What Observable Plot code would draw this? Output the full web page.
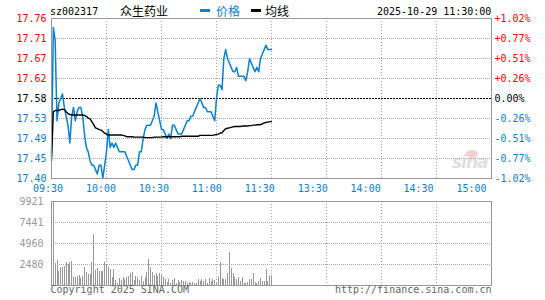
<!DOCTYPE html>
<html><head><meta charset="utf-8">
<script src="https://cdn.jsdelivr.net/npm/d3@7"></script>
<script src="https://cdn.jsdelivr.net/npm/@observablehq/plot@0.6"></script>
<style>
body{margin:0;background:#fff;}
#c{position:relative;width:545px;height:300px;overflow:hidden;font-family:"DejaVu Sans Mono",monospace;}
#c > *{position:absolute;}
.m{font-size:10px;line-height:12px;white-space:nowrap;font-family:"DejaVu Sans Mono",monospace;}
.k{font-size:12px;line-height:14px;white-space:nowrap;font-family:"Noto Sans CJK SC",sans-serif;}
</style></head><body><div id="c"></div>
<script>
const symbol = "sz002317";
const stockName = "众生药业";
const legendNames = ["价格", "均线"];
const stamp = "2025-10-29 11:30:00";
const prevClose = 17.58;
const timeTicks = [0, 30, 60, 90, 120, 150, 180, 210, 240];
const timeLabels = ["09:30","10:00","10:30","11:00","11:30","13:30","14:00","14:30","15:00"];
const priceTicks = [17.76, 17.715, 17.67, 17.625, 17.58, 17.535, 17.49, 17.445, 17.40];
const priceLabels = ["17.76","17.71","17.67","17.62","17.58","17.53","17.49","17.45","17.40"];
const pctLabels = ["+1.02%","+0.77%","+0.51%","+0.26%","0.00%","-0.26%","-0.51%","-0.77%","-1.02%"];
const volTicks = [9921, 7441, 4960, 2480];
const volLabels = ["9921","7441","4960","2480"];
const copyright = "Copyright 2025 SINA.COM";
const siteUrl = "http://finance.sina.com.cn";

// one value per trading minute, 09:30 .. 11:30
const price = [17.45,17.74,17.71,17.53,17.57,17.58,17.59,17.56,17.54,17.52,
17.48,17.54,17.56,17.53,17.55,17.56,17.56,17.54,17.50,17.47,
17.46,17.44,17.43,17.43,17.42,17.41,17.43,17.43,17.40,17.43,
17.46,17.51,17.47,17.48,17.47,17.48,17.47,17.46,17.46,17.46,
17.46,17.45,17.44,17.43,17.42,17.42,17.43,17.43,17.46,17.46,
17.49,17.51,17.52,17.52,17.52,17.53,17.54,17.57,17.55,17.53,
17.51,17.51,17.50,17.49,17.50,17.49,17.52,17.52,17.51,17.50,
17.50,17.50,17.51,17.52,17.53,17.53,17.54,17.54,17.55,17.56,
17.57,17.58,17.57,17.56,17.56,17.55,17.55,17.55,17.54,17.53,
17.58,17.61,17.61,17.60,17.67,17.69,17.67,17.66,17.65,17.64,
17.64,17.65,17.63,17.63,17.63,17.63,17.62,17.64,17.67,17.66,
17.65,17.64,17.65,17.64,17.67,17.68,17.69,17.70,17.69,17.69,17.69];

const avgPrice = [17.440,17.550,17.553,17.553,17.553,17.555,17.556,17.555,17.550,17.546,
17.544,17.543,17.543,17.543,17.543,17.543,17.543,17.543,17.542,17.540,
17.536,17.534,17.528,17.521,17.514,17.512,17.510,17.509,17.506,17.502,
17.500,17.498,17.498,17.498,17.498,17.498,17.498,17.498,17.498,17.497,
17.496,17.494,17.494,17.494,17.494,17.493,17.493,17.493,17.493,17.493,
17.493,17.492,17.492,17.492,17.492,17.492,17.493,17.493,17.493,17.493,
17.493,17.494,17.494,17.494,17.494,17.494,17.494,17.494,17.494,17.494,
17.494,17.495,17.495,17.495,17.495,17.495,17.495,17.495,17.495,17.495,
17.495,17.497,17.497,17.497,17.497,17.497,17.497,17.497,17.497,17.498,
17.499,17.500,17.502,17.503,17.508,17.512,17.513,17.514,17.515,17.516,
17.517,17.517,17.517,17.517,17.518,17.518,17.518,17.518,17.519,17.519,
17.520,17.520,17.521,17.521,17.521,17.523,17.525,17.526,17.527,17.528,17.528];

const volume = [3170,9921,2580,2976,1667,2103,2103,2262,2658,2500,
2658,2857,913,913,1071,1190,794,1071,2103,1587,
1309,1309,2658,6071,1786,1984,1667,1667,1667,2658,
2500,2103,1905,913,1865,595,278,794,595,913,
754,913,1071,1389,1508,595,1071,913,595,1071,
516,913,1587,3095,2103,1587,1190,1468,1071,1389,
1190,913,675,397,675,278,595,794,278,595,
317,595,516,516,238,357,238,357,238,278,
675,516,675,516,675,278,794,516,675,595,
278,913,2658,794,675,675,1389,3928,1984,1389,
913,675,913,516,913,278,278,397,675,675,
1389,397,278,516,794,516,516,1865,516,1071,1190];

const BLUE = "#0a80d0", RED = "#ff0000", GRID = "#a8a8a8", FRAME = "#999";
const rows = price.map((p, i) => ({m: i, p, a: avgPrice[i], v: volume[i]}));
const tickRows = priceTicks.map((t, i) => ({t, label: priceLabels[i], pct: pctLabels[i]}));
const tickColor = d => Math.abs(d.t - prevClose) < 1e-9 ? "#000" : (d.t > prevClose ? RED : BLUE);
const fontStyle = {fontFamily: "DejaVu Sans Mono, monospace", fontSize: "10px", background: "transparent", overflow: "visible"};

const c = document.getElementById("c");

// price panel
const pricePlot = Plot.plot({
  width: 545, height: 180,
  marginLeft: 51, marginRight: 54, marginTop: 18, marginBottom: 2,
  style: fontStyle,
  x: {domain: [0, 240], axis: null},
  y: {domain: [17.40, 17.76], axis: null},
  marks: [
    Plot.ruleX(timeTicks.slice(1, -1), {stroke: GRID, strokeDasharray: "1,2", shapeRendering: "crispEdges"}),
    Plot.ruleY(priceTicks.filter(t => t !== prevClose && t !== 17.76 && t !== 17.40), {stroke: GRID, strokeDasharray: "1,1", shapeRendering: "crispEdges"}),
    Plot.ruleY([prevClose], {stroke: "#000", strokeDasharray: "2,1", shapeRendering: "crispEdges"}),
    Plot.line(rows, {x: "m", y: "p", stroke: BLUE, strokeWidth: 1.5}),
    Plot.line(rows, {x: "m", y: "a", stroke: "#000", strokeWidth: 1.4}),
    Plot.frame({stroke: FRAME, shapeRendering: "crispEdges"}),
    Plot.text(tickRows, {frameAnchor: "left", y: "t", text: "label", fill: tickColor, textAnchor: "end", dx: -5}),
    Plot.text(tickRows, {frameAnchor: "right", y: "t", text: "pct", fill: tickColor, textAnchor: "start", dx: 3})
  ]
});
pricePlot.style.left = "0px"; pricePlot.style.top = "0px";

// time labels row
const timePlot = Plot.plot({
  width: 545, height: 13, margin: 0,
  style: fontStyle,
  x: {domain: [0, 240], range: [47.5, 471], axis: null},
  marks: [
    Plot.text(timeTicks, {x: d => d, text: (d, i) => timeLabels[i], frameAnchor: "middle", fill: BLUE})
  ]
});
timePlot.style.left = "0px"; timePlot.style.top = "182px";

// volume panel
const volPlot = Plot.plot({
  width: 545, height: 110,
  marginLeft: 51, marginRight: 54, marginTop: 11, marginBottom: 15,
  style: fontStyle,
  x: {domain: [0, 240], axis: null},
  y: {domain: [0, 9921], axis: null},
  marks: [
    Plot.ruleX(timeTicks.slice(1, -1), {stroke: GRID, strokeDasharray: "1,2", shapeRendering: "crispEdges"}),
    Plot.ruleY(volTicks.slice(1), {stroke: GRID, strokeDasharray: "1,1", shapeRendering: "crispEdges"}),
    Plot.ruleX(rows, {x: "m", y1: 0, y2: "v", stroke: "#999", strokeWidth: 1, shapeRendering: "crispEdges"}),
    Plot.frame({stroke: FRAME, shapeRendering: "crispEdges"}),
    Plot.text(volTicks, {frameAnchor: "left", y: d => d, text: (d, i) => volLabels[i], fill: "#999", textAnchor: "end", dx: -8}),
    Plot.text([copyright], {frameAnchor: "bottom-left", text: d => d, textAnchor: "start", dy: 7, dx: -1, fill: "#666"}),
    Plot.text([siteUrl], {frameAnchor: "bottom-right", text: d => d, textAnchor: "end", dy: 7, fill: "#666"})
  ]
});
volPlot.style.left = "0px"; volPlot.style.top = "190px";

// watermark
const wm = document.createElement("div");
wm.style.cssText = "left:452px;top:152px;font:italic bold 17px 'DejaVu Sans',sans-serif;color:#e0e0e0;letter-spacing:-1px;";
wm.textContent = "sina";
const eye = document.createElement("div");
eye.style.cssText = "left:466px;top:150px;width:12px;height:8px;border-radius:50%;background:#f5d0d0;";

// header
function span(cls, text, left, top, color) {
  const s = document.createElement("div");
  s.className = cls; s.textContent = text;
  s.style.left = left + "px"; s.style.top = top + "px"; s.style.color = color;
  return s;
}
function dash(left, color) {
  const d = document.createElement("div");
  d.style.cssText = `left:${left}px;top:9px;width:10px;height:3px;background:${color};`;
  return d;
}

c.append(eye, wm, pricePlot, timePlot, volPlot,
  span("m", symbol, 50, 6, "#000"),
  span("k", stockName, 120, 4, "#000"),
  dash(200, BLUE), span("k", legendNames[0], 216, 4, BLUE),
  dash(251, "#000"), span("k", legendNames[1], 265, 4, "#000"),
  span("m", stamp, 377, 6, "#000"));
</script></body></html>
